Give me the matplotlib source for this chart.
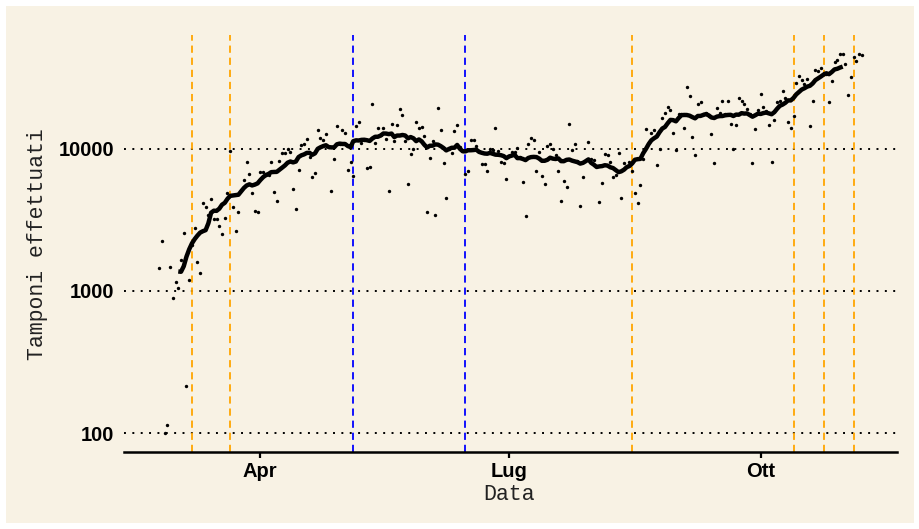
import numpy as np
import pandas as pd
import matplotlib.pyplot as plt
from matplotlib.patches import Rectangle

# Tamponi giornalieri dal 24 febbraio al 7 novembre 2020
date = pd.date_range('2020-02-24', '2020-11-07', freq='D')
tamponi = [
    1450, 2240, 100, 113, 1475, 885, 1160, 1045, 1650, 2560,
    215, 1200, 2100, 2760, 1600, 1330, 4160, 3880, 3400, 4430,
    3210, 3180, 2870, 2530, 3250, 4910, 9580, 3860, 2640, 3570,
    5100, 6010, 8120, 6620, 4880, 3660, 3590, 6810, 6810, 6500,
    6500, 8090, 4990, 4320, 8210, 9380, 9380, 9950, 9530, 5230,
    3780, 7100, 10660, 10780, 11740, 8800, 6320, 6700, 13490, 11870,
    11500, 12660, 10200, 5040, 8520, 14400, 10800, 13640, 13000, 7100,
    8000, 6410, 14480, 15300, 10960, 11500, 7340, 7450, 20500, 10900,
    14000, 12500, 14000, 11740, 5070, 14840, 11370, 14600, 18900, 17180,
    11320, 5610, 9130, 9950, 15420, 14000, 14240, 12380, 3570, 8610,
    11320, 3400, 19300, 13640, 7990, 4480, 9950, 9270, 13280, 14770,
    10200, 9580, 6590, 7020, 11500, 11430, 10440, 9680, 7830, 7770,
    7000, 9950, 9790, 14080, 9580, 8120, 7990, 6110, 8940, 9420,
    9530, 10160, 8800, 5860, 3370, 10710, 11800, 11430, 7020, 9530,
    6450, 5610, 10440, 10780, 9900, 9080, 7020, 4290, 5960, 5350,
    15000, 9840, 10710, 8250, 3980, 6320, 8340, 11130, 8480, 8380,
    7610, 4210, 5700, 9230, 8980, 8120, 6350, 6480, 9330, 4530,
    7950, 7610, 8120, 7000, 4860, 4160, 5530, 8500, 13730, 11070,
    12930, 13630, 7690, 9890, 16520, 17920, 19760, 18590, 12870, 9840,
    17440, 17500, 14000, 27140, 23400, 12060, 9040, 20700, 21370, 17440,
    17730, 17000, 12780, 7900, 19340, 17730, 21600, 17600, 21600, 14880,
    9950, 14700, 22790, 21600, 20510, 19100, 17600, 7900, 13730, 18800,
    24400, 19760, 18400, 14660, 8030, 15920, 21370, 21600, 25360, 22790,
    15500, 13950, 16960, 28970, 32690, 30580, 28620, 31080, 14480, 21600,
    35950, 35400, 36900, 33900, 33300, 21270, 29780, 41050, 42170, 46400,
    46400, 39200, 24000, 32200, 43860, 41500, 46200, 45800,
]

# Date dei provvedimenti (linee verticali)
date_arancio = ['2020-03-07', '2020-03-21', '2020-08-15', '2020-10-13', '2020-10-24', '2020-11-04']
date_blu = ['2020-05-05', '2020-06-15']

tick_date = ['2020-04-01', '2020-07-01', '2020-10-01']
tick_label = ['Apr', 'Lug', 'Ott']

df = pd.DataFrame({'data': date, 'tamponi': tamponi})
# media mobile centrata su 15 giorni
df['media'] = df['tamponi'].rolling(15, center=True).mean()

beige = '#f8f2e4'
fig = plt.figure(figsize=(9.2, 5.29), dpi=100, facecolor='white')
fig.patches.append(Rectangle((6 / 920, 6 / 529), 908 / 920, 517 / 529,
                             transform=fig.transFigure, facecolor=beige,
                             edgecolor='none', zorder=-10))
ax = fig.add_axes([124 / 920, 1 - 452 / 529, (897 - 124) / 920, (452 - 35) / 529])
ax.set_facecolor(beige)

for d in date_arancio:
    ax.axvline(pd.Timestamp(d), color='orange', linestyle=(0, (4, 2.7)), linewidth=1.3, zorder=2)
for d in date_blu:
    ax.axvline(pd.Timestamp(d), color='blue', linestyle=(0, (4, 2.7)), linewidth=1.3, zorder=2)

ax.scatter(df['data'], df['tamponi'], s=6, color='black', linewidths=0, zorder=3)
ax.plot(df['data'], df['media'], color='black', linewidth=3.2, solid_capstyle='butt', zorder=4)

# limiti con espansione del 5% come ggplot
ax.set_yscale('log')
lo, hi = np.log10(min(tamponi)), np.log10(max(tamponi))
ax.set_ylim(10 ** (lo - 0.05 * (hi - lo)), 10 ** (hi + 0.05 * (hi - lo)))
span = df['data'].iloc[-1] - df['data'].iloc[0]
ax.set_xlim(df['data'].iloc[0] - 0.05 * span, df['data'].iloc[-1] + 0.05 * span)

ax.set_yticks([100, 1000, 10000])
ax.set_yticklabels(['100', '1000', '10000'])
ax.yaxis.set_minor_locator(plt.NullLocator())
ax.set_xticks([pd.Timestamp(d) for d in tick_date])
ax.set_xticklabels(tick_label)

ax.grid(axis='y', which='major', color='black', linestyle=(0, (1, 3.3)), linewidth=1.4, zorder=1)
ax.set_axisbelow(True)

for s in ['top', 'right', 'left']:
    ax.spines[s].set_visible(False)
ax.spines['bottom'].set_linewidth(1.8)
ax.spines['bottom'].set_color('black')

ax.tick_params(axis='y', length=0, pad=7)
ax.tick_params(axis='x', length=4.5, width=1.6, pad=3)
for lab in ax.get_xticklabels() + ax.get_yticklabels():
    lab.set_family('Liberation Sans')
    lab.set_fontweight('bold')
    lab.set_fontsize(14.5)

fig.text(38 / 920, 1 - 244 / 529, 'Tamponi effettuati', rotation=90, ha='center', va='center',
         family='Liberation Mono', fontsize=15.5, color='#222222')
fig.text(509 / 920, 1 - 495 / 529, 'Data', ha='center', va='center',
         family='Liberation Mono', fontsize=15.5, color='#222222')

fig.savefig('out.png', dpi=100, facecolor='white')
